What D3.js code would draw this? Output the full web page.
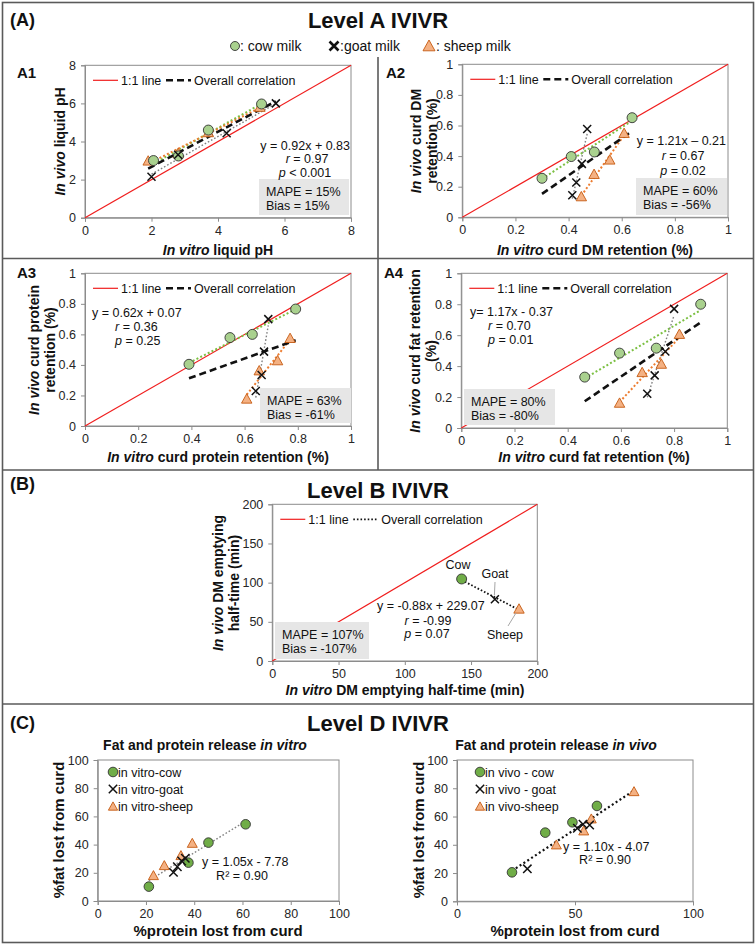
<!DOCTYPE html>
<html><head><meta charset="utf-8">
<script src="https://cdn.jsdelivr.net/npm/d3@7"></script>
<style>body{margin:0;background:#fff}svg{display:block}text{font-family:Arial,"Liberation Sans",sans-serif}</style>
</head><body><svg id="c" width="756" height="945"></svg>
<script>
// ---------------- DATA ----------------
const a1Cow   = [[2.06,3.0],[2.81,3.24],[3.71,4.6],[5.31,5.97]];
const a1Goat  = [[2.0,2.15],[2.8,3.3],[4.26,4.43],[5.74,6.0]];
const a1Sheep = [[1.9,2.98],[2.8,3.38],[3.71,4.47],[5.26,5.8]];
const a1Fit   = [0.92,0.83];
const a2Cow   = [[0.30,0.255],[0.41,0.397],[0.497,0.427],[0.639,0.651]];
const a2Goat  = [[0.47,0.577],[0.45,0.349],[0.429,0.227],[0.414,0.144]];
const a2Sheep = [[0.448,0.135],[0.496,0.281],[0.555,0.375],[0.609,0.549]];
const a2Fit   = [1.21,-0.21];
const a3Cow   = [[0.391,0.404],[0.545,0.579],[0.629,0.60],[0.792,0.766]];
const a3Goat  = [[0.689,0.70],[0.673,0.487],[0.664,0.334],[0.642,0.229]];
const a3Sheep = [[0.608,0.177],[0.655,0.362],[0.724,0.428],[0.771,0.574]];
const a3Fit   = [0.62,0.07];
const a4Cow   = [[0.464,0.329],[0.595,0.484],[0.733,0.516],[0.90,0.80]];
const a4Goat  = [[0.80,0.77],[0.767,0.495],[0.727,0.34],[0.699,0.222]];
const a4Sheep = [[0.595,0.161],[0.68,0.359],[0.752,0.413],[0.82,0.606]];
const a4Fit   = [1.17,-0.37];
const bCow    = [[142.9,104.7]];
const bGoat   = [[168,78.7]];
const bSheep  = [[186.2,66.4]];
const bFit    = [-0.88,229.07];
const cVitroCow   = [[21.2,10.2],[37.6,27.2],[45.9,41.4],[61.3,54.4]];
const cVitroGoat  = [[31.4,20.3],[33.0,24.3],[34.8,28.4],[36.3,30.3]];
const cVitroSheep = [[23.1,18.0],[27.6,25.1],[34.5,32.2],[39.2,40.9]];
const cVitroFit   = [1.05,-7.78];
const cVivoCow    = [[23.3,20.5],[37.4,48.6],[48.9,55.9],[59.3,67.5]];
const cVivoGoat   = [[29.8,23.0],[51.0,51.7],[53.4,54.5],[56.2,54.0]];
const cVivoSheep  = [[42.1,39.9],[53.7,49.8],[56.9,58.3],[75.0,77.6]];
const cVivoFit    = [1.10,-4.07];
const ticksA1 = [0,2,4,6,8];
const ticksFrac = [0,0.2,0.4,0.6,0.8,1];
const ticksB = [0,50,100,150,200];
const ticksC = [0,20,40,60,80,100];
const ticksCRightX = [0,50,100];

// ---------------- STYLE ----------------
const COW_A="#a9d18e", COW_C="#70ad47", SHEEP="#f4b183", SHEEP_S="#c55a11";
const svg = d3.select("#c");
svg.append("rect").attr("width",756).attr("height",945).attr("fill","#fff");

function rich(g,x,y,parts,o={}){
  const t=g.append("text").attr("x",x).attr("y",y)
    .attr("font-size",o.size||12.5).attr("font-weight",o.bold?"bold":"normal")
    .attr("text-anchor",o.anchor||"start").attr("fill",o.fill||"#111");
  if(o.rot) t.attr("transform",`rotate(-90,${x},${y})`);
  parts.forEach(p=>{ const s=t.append("tspan").text(p[0]); if(p[1]) s.attr("font-style","italic"); });
  return t;
}
function marker(g,type,cx,cy,o={}){
  const r=o.r||5;
  if(type==="cow") g.append("circle").attr("cx",cx).attr("cy",cy).attr("r",r).attr("fill",o.fill||COW_A).attr("stroke","#333").attr("stroke-width",0.9);
  else if(type==="goat"){ const h=o.h||4; g.append("path").attr("d",`M${cx-h},${cy-h}L${cx+h},${cy+h}M${cx-h},${cy+h}L${cx+h},${cy-h}`).attr("stroke","#111").attr("stroke-width",o.sw||1.5).attr("fill","none"); }
  else { const s=o.s||5.2; g.append("path").attr("d",`M${cx},${cy-s}L${cx+s},${cy+s*0.8}L${cx-s},${cy+s*0.8}Z`).attr("fill",SHEEP).attr("stroke",SHEEP_S).attr("stroke-width",0.9); }
}
function ols(pts){
  const n=pts.length, mx=d3.mean(pts,d=>d[0]), my=d3.mean(pts,d=>d[1]);
  let sxy=0,sxx=0; pts.forEach(d=>{sxy+=(d[0]-mx)*(d[1]-my); sxx+=(d[0]-mx)**2;});
  const b=sxy/sxx; return [b,my-b*mx];
}
function panel(o){
  const x=d3.scaleLinear().domain(o.xd).range([o.L,o.R]);
  const y=d3.scaleLinear().domain(o.yd).range([o.B,o.T]);
  const g=svg.append("g");
  const ax=g.append("g").attr("transform",`translate(0,${o.B})`)
    .call(d3.axisBottom(x).tickValues(o.xt).tickSize(4).tickPadding(4).tickFormat(d=>String(d)));
  const ay=g.append("g").attr("transform",`translate(${o.L},0)`)
    .call(d3.axisLeft(y).tickValues(o.yt).tickSize(4).tickPadding(5).tickFormat(d=>String(d)));
  [ax,ay].forEach(a=>{ a.attr("font-family",null).attr("font-size",null);
    a.select(".domain").attr("stroke","#8c8c8c");
    a.selectAll(".tick line").attr("stroke","#8c8c8c");
    a.selectAll(".tick text").attr("font-size",12.5).attr("fill","#262626"); });
  g.append("rect").attr("x",o.L).attr("y",o.T).attr("width",o.R-o.L).attr("height",o.B-o.T)
    .attr("fill","none").attr("stroke","#8c8c8c");
  if(o.diag) g.append("line").attr("x1",x(o.xd[0])).attr("y1",y(o.yd[0])).attr("x2",x(o.xd[1])).attr("y2",y(o.yd[1]))
    .attr("stroke","#f01e1e").attr("stroke-width",1.2);
  if(o.box) { g.append("rect").attr("x",o.box[0]).attr("y",o.box[1]).attr("width",o.box[2]-o.box[0]).attr("height",o.box[3]-o.box[1]).attr("fill","#e6e6e6");
    rich(g,o.box[0]+7,o.box[1]+16.5,[[o.mape]]); rich(g,o.box[0]+7,o.box[1]+30.5,[[o.bias]]); }
  const line=d3.line().x(d=>x(d[0])).y(d=>y(d[1]));
  if(o.groupTrend){
    [[o.cow,"#7cc043",2,"2,2.2"],[o.goat,"#808080",1.4,"1.6,2"],[o.sheep,"#ed7d31",2,"2,2.2"]].forEach(([pts,c,w,da])=>{
      const f=ols(pts), ex=d3.extent(pts,d=>d[0]);
      g.append("path").attr("d",line(ex.map(v=>[v,f[0]*v+f[1]]))).attr("stroke",c).attr("stroke-width",w).attr("stroke-dasharray",da).attr("fill","none");
    });
  }
  const all=[...o.cow,...o.goat,...o.sheep], ex=d3.extent(all,d=>d[0]);
  g.append("path").attr("d",line(ex.map(v=>[v,o.fit[0]*v+o.fit[1]])))
    .attr("stroke",o.fitColor||"#111").attr("stroke-width",o.fitW||2.6).attr("stroke-dasharray",o.fitDash||"7,4").attr("fill","none");
  o.sheep.forEach(d=>marker(g,"sheep",x(d[0]),y(d[1]),o.mk||{}));
  o.cow.forEach(d=>marker(g,"cow",x(d[0]),y(d[1]),Object.assign({fill:o.cowFill},o.mk||{})));
  o.goat.forEach(d=>marker(g,"goat",x(d[0]),y(d[1]),o.mk||{}));
  if(o.leg){ // 1:1 legend
    const lx=o.L, ly=o.T+15;
    g.append("line").attr("x1",lx+8).attr("x2",lx+33).attr("y1",ly).attr("y2",ly).attr("stroke","#f01e1e").attr("stroke-width",1.2);
    rich(g,lx+36,ly+4.5,[["1:1 line"]]);
    g.append("line").attr("x1",lx+81).attr("x2",lx+106).attr("y1",ly).attr("y2",ly).attr("stroke","#111")
      .attr("stroke-width",o.fitW||2.6).attr("stroke-dasharray",o.fitDash||"7,4");
    rich(g,lx+109,ly+4.5,[["Overall correlation"]]);
  }
  return {g,x,y};
}

// ---------------- FRAME ----------------
const fr=svg.append("g").attr("stroke","#5a5a5a").attr("stroke-width",1.6);
fr.append("rect").attr("x",2.5).attr("y",2.5).attr("width",751).attr("height",940).attr("fill","none");
fr.append("line").attr("x1",2).attr("x2",754).attr("y1",258.5).attr("y2",258.5);
fr.append("line").attr("x1",378).attr("x2",378).attr("y1",57).attr("y2",470);
fr.append("line").attr("x1",2).attr("x2",754).attr("y1",470).attr("y2",470);
fr.append("line").attr("x1",2).attr("x2",754).attr("y1",704).attr("y2",704);

// headings
rich(svg,10,26,[["(A)"]],{size:18,bold:true});
rich(svg,378,28,[["Level A IVIVR"]],{size:22,bold:true,anchor:"middle"});
rich(svg,10,490,[["(B)"]],{size:18,bold:true});
rich(svg,378,498,[["Level B IVIVR"]],{size:22,bold:true,anchor:"middle"});
rich(svg,10,729,[["(C)"]],{size:18,bold:true});
rich(svg,378,731,[["Level D IVIVR"]],{size:22,bold:true,anchor:"middle"});

// top legend
marker(svg,"cow",235,46,{r:4.5});
rich(svg,240,51,[[": cow milk"]],{size:14});
marker(svg,"goat",334,46,{h:4.5,sw:2.6});
rich(svg,340,51,[[":goat milk"]],{size:14});
marker(svg,"sheep",429,46,{s:6});
rich(svg,436,51,[[": sheep milk"]],{size:14});

// ---------------- PANEL A1 ----------------
panel({L:85,R:351,T:65.3,B:217.7,xd:[0,8],yd:[0,8],xt:ticksA1,yt:ticksA1,diag:true,groupTrend:true,leg:true,
  cow:a1Cow,goat:a1Goat,sheep:a1Sheep,fit:a1Fit,box:[259,179,349,215],mape:"MAPE = 15%",bias:"Bias = 15%"});
rich(svg,17,78,[["A1"]],{size:15,bold:true});
rich(svg,350,149.5,[["y = 0.92x + 0.83"]],{anchor:"end"});
rich(svg,307,162.5,[["r",1],[" = 0.97"]],{anchor:"middle"});
rich(svg,305,176.5,[["p",1],[" < 0.001"]],{anchor:"middle"});
rich(svg,218,255,[["In vitro",1],[" liquid pH"]],{size:14,bold:true,anchor:"middle"});
rich(svg,65,141.5,[["In vivo",1],[" liquid pH"]],{size:14,bold:true,anchor:"middle",rot:true});

// ---------------- PANEL A2 ----------------
panel({L:462.3,R:728,T:64.3,B:217.3,xd:[0,1],yd:[0,1],xt:ticksFrac,yt:ticksFrac,diag:true,groupTrend:true,leg:true,
  cow:a2Cow,goat:a2Goat,sheep:a2Sheep,fit:a2Fit,box:[636,178,727,215],mape:"MAPE = 60%",bias:"Bias = -56%"});
rich(svg,386,78,[["A2"]],{size:15,bold:true});
rich(svg,726,144.5,[["y = 1.21x – 0.21"]],{anchor:"end"});
rich(svg,683,159.5,[["r",1],[" = 0.67"]],{anchor:"middle"});
rich(svg,683,174.5,[["p",1],[" = 0.02"]],{anchor:"middle"});
rich(svg,595,255,[["In vitro",1],[" curd DM retention (%)"]],{size:14,bold:true,anchor:"middle"});
rich(svg,421,141,[["In vivo",1],[" curd DM"]],{size:14,bold:true,anchor:"middle",rot:true});
rich(svg,437,141,[["retention (%)"]],{size:14,bold:true,anchor:"middle",rot:true});

// ---------------- PANEL A3 ----------------
panel({L:85,R:351,T:273.3,B:426,xd:[0,1],yd:[0,1],xt:ticksFrac,yt:ticksFrac,diag:true,groupTrend:true,leg:true,
  cow:a3Cow,goat:a3Goat,sheep:a3Sheep,fit:a3Fit,box:[260,388,351,423],mape:"MAPE = 63%",bias:"Bias = -61%"});
rich(svg,17,278,[["A3"]],{size:15,bold:true});
rich(svg,92,316.5,[["y = 0.62x + 0.07"]]);
rich(svg,115,330.5,[["r",1],[" = 0.36"]]);
rich(svg,115,344.5,[["p",1],[" = 0.25"]]);
rich(svg,218,462,[["In vitro",1],[" curd protein retention (%)"]],{size:14,bold:true,anchor:"middle"});
rich(svg,39,350,[["In vivo",1],[" curd protein"]],{size:14,bold:true,anchor:"middle",rot:true});
rich(svg,55,350,[["retention (%)"]],{size:14,bold:true,anchor:"middle",rot:true});

// ---------------- PANEL A4 ----------------
panel({L:461.3,R:727.3,T:273.3,B:428,xd:[0,1],yd:[0,1],xt:ticksFrac,yt:ticksFrac,diag:true,groupTrend:true,leg:true,
  cow:a4Cow,goat:a4Goat,sheep:a4Sheep,fit:a4Fit,box:[464,389,555,425],mape:"MAPE = 80%",bias:"Bias = -80%"});
rich(svg,384,278,[["A4"]],{size:15,bold:true});
rich(svg,470,315.5,[["y= 1.17x - 0.37"]]);
rich(svg,488,329.5,[["r",1],[" = 0.70"]]);
rich(svg,488,343.5,[["p",1],[" = 0.01"]]);
rich(svg,594,462,[["In vitro",1],[" curd fat retention (%)"]],{size:14,bold:true,anchor:"middle"});
rich(svg,420,351,[["In vivo",1],[" curd fat retention"]],{size:14,bold:true,anchor:"middle",rot:true});
rich(svg,436,351,[["(%)"]],{size:14,bold:true,anchor:"middle",rot:true});

// ---------------- PANEL B ----------------
const pb=panel({L:272.3,R:537.3,T:504.3,B:661,xd:[0,200],yd:[0,200],xt:ticksB,yt:ticksB,diag:true,groupTrend:false,leg:true,
  cow:bCow,goat:bGoat,sheep:bSheep,fit:bFit,fitW:1.8,fitDash:"1.6,2",cowFill:COW_C,
  box:[275,622,369,659],mape:"MAPE = 107%",bias:"Bias = -107%"});
rich(svg,377,610,[["y = -0.88x + 229.07"]]);
rich(svg,428,624.5,[["r",1],[" = -0.99"]],{anchor:"middle"});
rich(svg,427,638,[["p",1],[" = 0.07"]],{anchor:"middle"});
rich(svg,458,568.5,[["Cow"]],{anchor:"middle"});
rich(svg,495,577.5,[["Goat"]],{anchor:"middle"});
rich(svg,505,638.5,[["Sheep"]],{anchor:"middle"});
svg.append("line").attr("x1",495).attr("y1",582).attr("x2",pb.x(bGoat[0][0])-0.5).attr("y2",pb.y(bGoat[0][1])-4).attr("stroke","#a6a6a6");
svg.append("line").attr("x1",508).attr("y1",626).attr("x2",pb.x(bSheep[0][0])-3).attr("y2",pb.y(bSheep[0][1])+4).attr("stroke","#a6a6a6");
rich(svg,405,695,[["In vitro",1],[" DM emptying half-time (min)"]],{size:14,bold:true,anchor:"middle"});
rich(svg,223,583,[["In vivo",1],[" DM emptying"]],{size:14,bold:true,anchor:"middle",rot:true});
rich(svg,239,583,[["half-time (min)"]],{size:14,bold:true,anchor:"middle",rot:true});

// ---------------- PANEL C (in vitro) ----------------
panel({L:97.7,R:339,T:760,B:901,xd:[0,100],yd:[0,100],xt:ticksC,yt:ticksC,diag:false,groupTrend:false,leg:false,
  cow:cVitroCow,goat:cVitroGoat,sheep:cVitroSheep,fit:cVitroFit,fitColor:"#808080",fitW:1.4,fitDash:"1.6,2",cowFill:COW_C,mk:{r:4.8,h:4.2,s:5,sw:1.5}});
rich(svg,205,750,[["Fat and protein release "],["in vitro",1]],{size:14,bold:true,anchor:"middle"});
marker(svg,"cow",113,772,{fill:COW_C,r:4.8}); rich(svg,118,776.5,[["in vitro-cow"]]);
marker(svg,"goat",113,789,{h:4.2}); rich(svg,118,793.5,[["in vitro-goat"]]);
marker(svg,"sheep",113,806.5,{s:4.6}); rich(svg,118,811,[["in vitro-sheep"]]);
rich(svg,202,866,[["y = 1.05x - 7.78"]]);
rich(svg,242,879.5,[["R² = 0.90"]],{anchor:"middle"});
rich(svg,218,935.5,[["%protein lost from curd"]],{size:15,bold:true,anchor:"middle"});
rich(svg,64,830,[["%fat lost from curd"]],{size:15,bold:true,anchor:"middle",rot:true});

// ---------------- PANEL C (in vivo) ----------------
panel({L:457,R:693,T:760,B:901.3,xd:[0,100],yd:[0,100],xt:ticksCRightX,yt:ticksC,diag:false,groupTrend:false,leg:false,
  cow:cVivoCow,goat:cVivoGoat,sheep:cVivoSheep,fit:cVivoFit,fitColor:"#111",fitW:2.2,fitDash:"2,2.6",cowFill:COW_C,mk:{r:4.8,h:4.2,s:5,sw:1.5}});
rich(svg,556,750,[["Fat and protein release "],["in vivo",1]],{size:14,bold:true,anchor:"middle"});
marker(svg,"cow",480,772,{fill:COW_C,r:4.8}); rich(svg,485,776.5,[["in vivo - cow"]]);
marker(svg,"goat",480,789,{h:4.2}); rich(svg,485,793.5,[["in vivo - goat"]]);
marker(svg,"sheep",480,806.5,{s:4.6}); rich(svg,485,811,[["in vivo-sheep"]]);
rich(svg,563,850.5,[["y = 1.10x - 4.07"]]);
rich(svg,605,863.5,[["R² = 0.90"]],{anchor:"middle"});
rich(svg,575,935.5,[["%protein lost from curd"]],{size:15,bold:true,anchor:"middle"});
rich(svg,424,830,[["%fat lost from curd"]],{size:15,bold:true,anchor:"middle",rot:true});
</script></body></html>
